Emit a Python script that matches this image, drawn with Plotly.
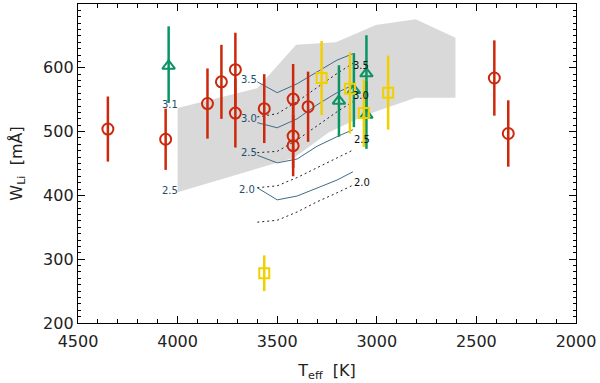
import plotly.graph_objects as go

# ---------------- data ----------------
# red circles
red_T = [4350, 4060, 3850, 3780, 3710, 3710, 3565, 3420, 3420, 3420, 3345, 2410, 2340]
red_W = [504, 488, 544, 578, 597, 529, 536, 551, 493, 478, 539, 584, 497]
red_ep = [51, 48, 55, 58, 58, 54, 54, 55, 50, 48, 55, 59, 52]
red_em = [51, 48, 55, 58, 58, 54, 54, 55, 50, 48, 55, 59, 52]

# green triangles
grn_T = [4045, 3190, 3115, 3052, 3052]
grn_W = [603, 548, 565, 591, 526]
grn_ep = [62, 56, 58, 60, 53]
grn_em = [58, 56, 58, 60, 53]

# yellow squares
yel_T = [3277, 3135, 3065, 2943, 3565]
yel_W = [584, 567, 529, 561, 278]
yel_ep = [58, 57, 53, 58, 28]
yel_em = [58, 70, 53, 58, 28]

# grey band (polygon)
band_T = [4000, 3600, 3405, 3240, 3205, 3005, 2805, 2605, 2605, 2805, 3055, 3240, 3415, 4000]
band_W = [537, 568, 636, 639, 640, 667, 676, 647, 553, 553, 526, 499, 459, 405]

# model curves
curve_T = [3600, 3500, 3400, 3300, 3200, 3120]
solid_35 = [578, 561, 575, 593, 612, 622]
solid_30 = [514, 506, 520, 542, 561, 573]
solid_25 = [463, 451, 457, 477, 492, 503]
solid_20 = [412, 393, 399, 412, 424, 437]
dot_35 = [523, 528, 547, 569, 591, 607]
dot_30 = [467, 469, 487, 509, 531, 547]
dot_25 = [412, 415, 428, 443, 459, 471]
dot_20 = [358, 361, 374, 390, 404, 416]

# label texts and positions
blue_lab = ["3.5", "3.0", "2.5", "2.0", "3.1", "2.5"]
blue_lab_T = [3640, 3640, 3640, 3650, 4040, 4040]
blue_lab_W = [581, 520, 467, 409, 543, 407]
blk_lab = ["3.5", "3.0", "2.5", "2.0"]
blk_lab_T = [3080, 3080, 3075, 3075]
blk_lab_W = [604, 556, 488, 421]

x_ticks = [4500, 4000, 3500, 3000, 2500, 2000]
y_ticks = [200, 300, 400, 500, 600, 700]

# ---------------- figure ----------------
RED = "#CC280C"
GRN = "#0A9463"
YEL = "#F2D000"
SLATE = "#3E6C88"
LABBLUE = "#1E4E6E"
TXT = "#222222"

fig = go.Figure()

fig.add_trace(go.Scatter(x=band_T, y=band_W, fill="toself", fillcolor="#D9D9D9",
                         mode="lines", line=dict(width=0, color="#D9D9D9"),
                         hoverinfo="skip", showlegend=False))

for ys in [solid_35, solid_30, solid_25, solid_20]:
    fig.add_trace(go.Scatter(x=curve_T, y=ys, mode="lines",
                             line=dict(color=SLATE, width=1), showlegend=False))
for ys in [dot_35, dot_30, dot_25, dot_20]:
    fig.add_trace(go.Scatter(x=curve_T, y=ys, mode="lines",
                             line=dict(color="#222222", width=1, dash="2px,3px"),
                             showlegend=False))


def pts(T, W, ep, em, color, symbol, size):
    return go.Scatter(
        x=T, y=W, mode="markers",
        marker=dict(symbol=symbol, size=size, color=color,
                    line=dict(color=color, width=2)),
        error_y=dict(type="data", symmetric=False, array=ep, arrayminus=em,
                     color=color, thickness=2.5, width=0),
        showlegend=False)


fig.add_trace(pts(red_T, red_W, red_ep, red_em, RED, "circle-open", 11))
fig.add_trace(pts(grn_T, grn_W, grn_ep, grn_em, GRN, "triangle-up-open", 11))
fig.add_trace(pts(yel_T, yel_W, yel_ep, yel_em, YEL, "square-open", 10))

for t, x, y in zip(blue_lab, blue_lab_T, blue_lab_W):
    fig.add_annotation(x=x, y=y, text=t, showarrow=False, xref="x", yref="y",
                       font=dict(size=10, color=LABBLUE, family="DejaVu Sans"))
for t, x, y in zip(blk_lab, blk_lab_T, blk_lab_W):
    fig.add_annotation(x=x, y=y, text=t, showarrow=False, xref="x", yref="y",
                       font=dict(size=10, color="#111111", family="DejaVu Sans"))

axis_common = dict(showgrid=False, zeroline=False, showline=True, linecolor="black",
                   linewidth=1.3, mirror="allticks", ticks="inside", automargin=False,
                   tickcolor="black", tickfont=dict(size=16, color=TXT))

fig.update_xaxes(range=[4500, 2000], tickvals=x_ticks, ticklen=7, tickwidth=1,
                 ticklabelstandoff=4,
                 minor=dict(dtick=100, ticklen=4, ticks="inside", tickcolor="black"),
                 title=dict(text="T<sub>eff</sub>  [K]", font=dict(size=16, color=TXT),
                            standoff=14),
                 **axis_common)
fig.update_yaxes(range=[200, 700], tickvals=y_ticks, ticklen=7, tickwidth=1,
                 minor=dict(dtick=10, ticklen=3, ticks="inside", tickcolor="black"),
                 title=dict(text="W<sub>Li</sub>  [mÅ]", font=dict(size=16, color=TXT),
                            standoff=16),
                 **axis_common)

fig.update_layout(width=600, height=383, margin=dict(l=78, r=24, t=4, b=60),
                  plot_bgcolor="white", paper_bgcolor="white",
                  font=dict(family="DejaVu Sans"))

fig.write_html("out.html", config={"displayModeBar": False},
               post_script="document.body.style.margin='0';document.body.style.overflow='hidden';")
